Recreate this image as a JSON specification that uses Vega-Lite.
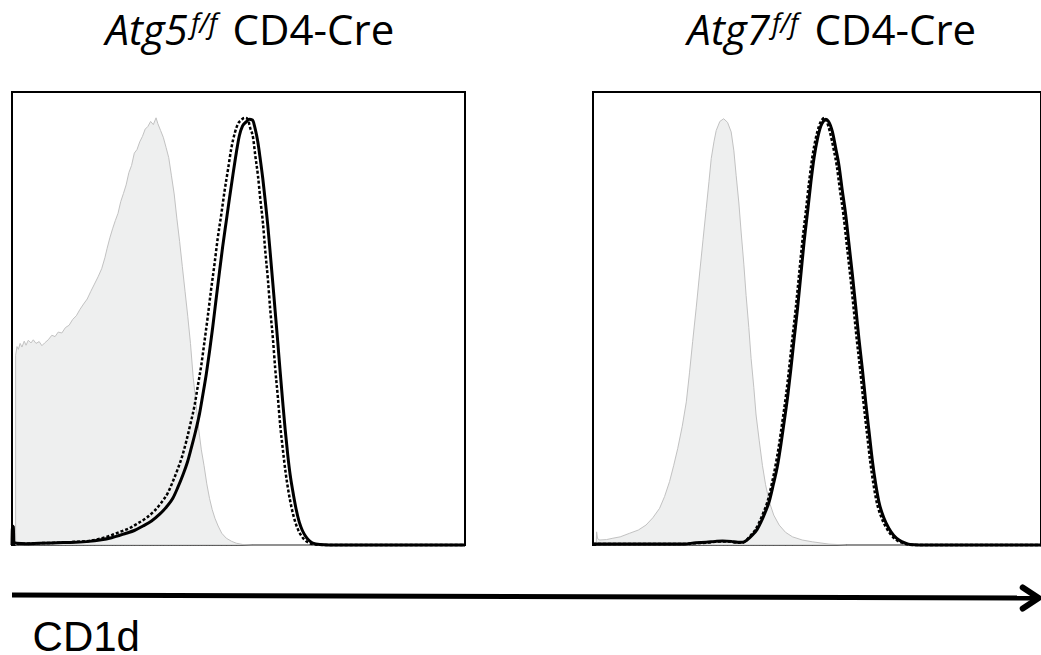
{
  "$schema": "https://vega.github.io/schema/vega-lite/v6.json",
  "background": "white",
  "padding": {"left": 9, "top": 10, "right": 0, "bottom": 0},
  "config": {"view": {"stroke": "black", "strokeWidth": 2}},
  "datasets": {
    "atg5": [
      {"sample":"isotype","cd1d":8,"events":41.9},{"sample":"isotype","cd1d":11,"events":43.8},{"sample":"isotype","cd1d":14,"events":43.2},{"sample":"isotype","cd1d":18,"events":44.5},{"sample":"isotype","cd1d":22,"events":43.7},{"sample":"isotype","cd1d":27,"events":45},{"sample":"isotype","cd1d":31,"events":44.1},{"sample":"isotype","cd1d":36,"events":45.2},{"sample":"isotype","cd1d":42,"events":44.6},{"sample":"isotype","cd1d":47,"events":45.3},{"sample":"isotype","cd1d":53,"events":44.5},{"sample":"isotype","cd1d":60,"events":44.9},{"sample":"isotype","cd1d":66,"events":44},{"sample":"isotype","cd1d":72,"events":44.6},{"sample":"isotype","cd1d":80,"events":45.3},{"sample":"isotype","cd1d":88,"events":46.3},{"sample":"isotype","cd1d":95,"events":46},{"sample":"isotype","cd1d":102,"events":47},{"sample":"isotype","cd1d":110,"events":46.8},{"sample":"isotype","cd1d":118,"events":48},{"sample":"isotype","cd1d":126,"events":48.5},{"sample":"isotype","cd1d":134,"events":49.8},{"sample":"isotype","cd1d":142,"events":50.6},{"sample":"isotype","cd1d":150,"events":52},{"sample":"isotype","cd1d":158,"events":53.2},{"sample":"isotype","cd1d":166,"events":54.3},{"sample":"isotype","cd1d":174,"events":56},{"sample":"isotype","cd1d":182,"events":57.6},{"sample":"isotype","cd1d":190,"events":59.2},{"sample":"isotype","cd1d":198,"events":61},{"sample":"isotype","cd1d":205,"events":63.4},{"sample":"isotype","cd1d":210,"events":65.5},{"sample":"isotype","cd1d":216,"events":67.8},{"sample":"isotype","cd1d":222,"events":69.8},{"sample":"isotype","cd1d":228,"events":71.6},{"sample":"isotype","cd1d":234,"events":73.2},{"sample":"isotype","cd1d":240,"events":75.8},{"sample":"isotype","cd1d":246,"events":77.6},{"sample":"isotype","cd1d":252,"events":79.5},{"sample":"isotype","cd1d":258,"events":82.2},{"sample":"isotype","cd1d":264,"events":83.8},{"sample":"isotype","cd1d":270,"events":86.5},{"sample":"isotype","cd1d":276,"events":87.3},{"sample":"isotype","cd1d":282,"events":89},{"sample":"isotype","cd1d":288,"events":90.2},{"sample":"isotype","cd1d":294,"events":91.8},{"sample":"isotype","cd1d":300,"events":92.4},{"sample":"isotype","cd1d":306,"events":93.5},{"sample":"isotype","cd1d":312,"events":92.8},{"sample":"isotype","cd1d":318,"events":94.3},{"sample":"isotype","cd1d":322,"events":93},{"sample":"isotype","cd1d":328,"events":91.5},{"sample":"isotype","cd1d":334,"events":90},{"sample":"isotype","cd1d":340,"events":87.8},{"sample":"isotype","cd1d":346,"events":85.5},{"sample":"isotype","cd1d":352,"events":81.5},{"sample":"isotype","cd1d":358,"events":77.5},{"sample":"isotype","cd1d":364,"events":72},{"sample":"isotype","cd1d":370,"events":67},{"sample":"isotype","cd1d":376,"events":61.5},{"sample":"isotype","cd1d":382,"events":56},{"sample":"isotype","cd1d":388,"events":50.5},{"sample":"isotype","cd1d":394,"events":44.5},{"sample":"isotype","cd1d":400,"events":37},{"sample":"isotype","cd1d":406,"events":31.5},{"sample":"isotype","cd1d":412,"events":25.7},{"sample":"isotype","cd1d":418,"events":21},{"sample":"isotype","cd1d":424,"events":17.5},{"sample":"isotype","cd1d":430,"events":13.5},{"sample":"isotype","cd1d":436,"events":10.3},{"sample":"isotype","cd1d":442,"events":7.8},{"sample":"isotype","cd1d":448,"events":5.9},{"sample":"isotype","cd1d":455,"events":4.2},{"sample":"isotype","cd1d":463,"events":2.6},{"sample":"isotype","cd1d":473,"events":1.5},{"sample":"isotype","cd1d":485,"events":0.8},{"sample":"isotype","cd1d":495,"events":0.4},{"sample":"isotype","cd1d":510,"events":0.1},{"sample":"isotype","cd1d":530,"events":0},{"sample":"isotype","cd1d":1000,"events":0},
      {"sample":"control","cd1d":0,"events":0},{"sample":"control","cd1d":1,"events":4.2},{"sample":"control","cd1d":3,"events":4},{"sample":"control","cd1d":4,"events":0.6},{"sample":"control","cd1d":10,"events":0.4},{"sample":"control","cd1d":30,"events":0.3},{"sample":"control","cd1d":60,"events":0.4},{"sample":"control","cd1d":100,"events":0.5},{"sample":"control","cd1d":140,"events":0.6},{"sample":"control","cd1d":170,"events":0.8},{"sample":"control","cd1d":194,"events":1.1},{"sample":"control","cd1d":220,"events":1.6},{"sample":"control","cd1d":252,"events":2.6},{"sample":"control","cd1d":270,"events":3.2},{"sample":"control","cd1d":289,"events":4.2},{"sample":"control","cd1d":308,"events":5.3},{"sample":"control","cd1d":326,"events":6.8},{"sample":"control","cd1d":341,"events":8.4},{"sample":"control","cd1d":355,"events":10.3},{"sample":"control","cd1d":366,"events":12.7},{"sample":"control","cd1d":377,"events":15.4},{"sample":"control","cd1d":387,"events":18.2},{"sample":"control","cd1d":396,"events":21.5},{"sample":"control","cd1d":405,"events":25},{"sample":"control","cd1d":414,"events":29},{"sample":"control","cd1d":421,"events":33},{"sample":"control","cd1d":429,"events":37.8},{"sample":"control","cd1d":436,"events":42.7},{"sample":"control","cd1d":443,"events":48},{"sample":"control","cd1d":450,"events":53.8},{"sample":"control","cd1d":458,"events":60.3},{"sample":"control","cd1d":465,"events":65.8},{"sample":"control","cd1d":473,"events":71.5},{"sample":"control","cd1d":480,"events":76.5},{"sample":"control","cd1d":487.5,"events":81.6},{"sample":"control","cd1d":495,"events":86.5},{"sample":"control","cd1d":502,"events":90.4},{"sample":"control","cd1d":509,"events":92.5},{"sample":"control","cd1d":517,"events":93.4},{"sample":"control","cd1d":524,"events":94},{"sample":"control","cd1d":531,"events":93.8},{"sample":"control","cd1d":537,"events":91.8},{"sample":"control","cd1d":542.6,"events":89},{"sample":"control","cd1d":548,"events":85.2},{"sample":"control","cd1d":553.6,"events":80.9},{"sample":"control","cd1d":559,"events":76},{"sample":"control","cd1d":564.6,"events":70.6},{"sample":"control","cd1d":570,"events":64.5},{"sample":"control","cd1d":575.6,"events":58},{"sample":"control","cd1d":581,"events":51.5},{"sample":"control","cd1d":586.6,"events":44.9},{"sample":"control","cd1d":592,"events":38.2},{"sample":"control","cd1d":597.6,"events":31.6},{"sample":"control","cd1d":603,"events":25.5},{"sample":"control","cd1d":608.7,"events":19.9},{"sample":"control","cd1d":614,"events":15.5},{"sample":"control","cd1d":620,"events":11.8},{"sample":"control","cd1d":627,"events":8},{"sample":"control","cd1d":634,"events":5.1},{"sample":"control","cd1d":641,"events":3.2},{"sample":"control","cd1d":649,"events":1.8},{"sample":"control","cd1d":656,"events":1},{"sample":"control","cd1d":664,"events":0.4},{"sample":"control","cd1d":680,"events":0.1},{"sample":"control","cd1d":700,"events":0},{"sample":"control","cd1d":1000,"events":0},
      {"sample":"knockout","cd1d":0,"events":0.3},{"sample":"knockout","cd1d":30,"events":0.3},{"sample":"knockout","cd1d":60,"events":0.4},{"sample":"knockout","cd1d":100,"events":0.5},{"sample":"knockout","cd1d":140,"events":0.7},{"sample":"knockout","cd1d":170,"events":0.9},{"sample":"knockout","cd1d":190,"events":1.3},{"sample":"knockout","cd1d":215,"events":2},{"sample":"knockout","cd1d":241,"events":3},{"sample":"knockout","cd1d":259,"events":3.7},{"sample":"knockout","cd1d":278,"events":4.8},{"sample":"knockout","cd1d":297,"events":6},{"sample":"knockout","cd1d":315,"events":7.6},{"sample":"knockout","cd1d":330,"events":9.4},{"sample":"knockout","cd1d":344,"events":11.5},{"sample":"knockout","cd1d":355,"events":14},{"sample":"knockout","cd1d":366,"events":16.8},{"sample":"knockout","cd1d":376,"events":19.7},{"sample":"knockout","cd1d":385,"events":23},{"sample":"knockout","cd1d":394,"events":26.8},{"sample":"knockout","cd1d":403,"events":30.8},{"sample":"knockout","cd1d":410,"events":35},{"sample":"knockout","cd1d":418,"events":39.8},{"sample":"knockout","cd1d":425,"events":45},{"sample":"knockout","cd1d":432,"events":50.3},{"sample":"knockout","cd1d":439,"events":56},{"sample":"knockout","cd1d":447,"events":62},{"sample":"knockout","cd1d":454,"events":67.6},{"sample":"knockout","cd1d":462,"events":73},{"sample":"knockout","cd1d":469,"events":78},{"sample":"knockout","cd1d":477,"events":83},{"sample":"knockout","cd1d":484,"events":87.5},{"sample":"knockout","cd1d":492,"events":91},{"sample":"knockout","cd1d":499,"events":93},{"sample":"knockout","cd1d":506,"events":93.8},{"sample":"knockout","cd1d":513,"events":94.3},{"sample":"knockout","cd1d":520,"events":94.1},{"sample":"knockout","cd1d":526,"events":92},{"sample":"knockout","cd1d":532,"events":90},{"sample":"knockout","cd1d":537,"events":86},{"sample":"knockout","cd1d":543,"events":81.5},{"sample":"knockout","cd1d":548,"events":76.5},{"sample":"knockout","cd1d":554,"events":71},{"sample":"knockout","cd1d":559,"events":65},{"sample":"knockout","cd1d":565,"events":58.5},{"sample":"knockout","cd1d":570,"events":52},{"sample":"knockout","cd1d":576,"events":45.5},{"sample":"knockout","cd1d":581,"events":39},{"sample":"knockout","cd1d":587,"events":32.5},{"sample":"knockout","cd1d":592,"events":26.5},{"sample":"knockout","cd1d":598,"events":21},{"sample":"knockout","cd1d":604,"events":16},{"sample":"knockout","cd1d":610,"events":12},{"sample":"knockout","cd1d":617,"events":8.3},{"sample":"knockout","cd1d":624,"events":5.5},{"sample":"knockout","cd1d":631,"events":3.5},{"sample":"knockout","cd1d":639,"events":2},{"sample":"knockout","cd1d":646,"events":1.1},{"sample":"knockout","cd1d":655,"events":0.5},{"sample":"knockout","cd1d":670,"events":0.1},{"sample":"knockout","cd1d":690,"events":0},{"sample":"knockout","cd1d":1000,"events":0}
    ],
    "atg7": [
      {"sample":"isotype","cd1d":7,"events":0},{"sample":"isotype","cd1d":8,"events":2.9},{"sample":"isotype","cd1d":10,"events":1.4},{"sample":"isotype","cd1d":15,"events":1.1},{"sample":"isotype","cd1d":30,"events":1.2},{"sample":"isotype","cd1d":44,"events":1.5},{"sample":"isotype","cd1d":60,"events":1.8},{"sample":"isotype","cd1d":81,"events":2.6},{"sample":"isotype","cd1d":100,"events":3.3},{"sample":"isotype","cd1d":117,"events":4.4},{"sample":"isotype","cd1d":132,"events":6},{"sample":"isotype","cd1d":147,"events":8.1},{"sample":"isotype","cd1d":158,"events":10.7},{"sample":"isotype","cd1d":169,"events":14},{"sample":"isotype","cd1d":178,"events":17.5},{"sample":"isotype","cd1d":187,"events":21.3},{"sample":"isotype","cd1d":197,"events":26.2},{"sample":"isotype","cd1d":206,"events":31.6},{"sample":"isotype","cd1d":213,"events":38},{"sample":"isotype","cd1d":220,"events":44.9},{"sample":"isotype","cd1d":228,"events":52.5},{"sample":"isotype","cd1d":235,"events":59.6},{"sample":"isotype","cd1d":243,"events":67.5},{"sample":"isotype","cd1d":250,"events":74.3},{"sample":"isotype","cd1d":256,"events":80.2},{"sample":"isotype","cd1d":261,"events":85.3},{"sample":"isotype","cd1d":267,"events":89},{"sample":"isotype","cd1d":272,"events":91.5},{"sample":"isotype","cd1d":280,"events":93.5},{"sample":"isotype","cd1d":288.5,"events":94.1},{"sample":"isotype","cd1d":297,"events":93.3},{"sample":"isotype","cd1d":305,"events":91.2},{"sample":"isotype","cd1d":311,"events":87},{"sample":"isotype","cd1d":316,"events":81.6},{"sample":"isotype","cd1d":322,"events":75.5},{"sample":"isotype","cd1d":327,"events":69.1},{"sample":"isotype","cd1d":333,"events":62},{"sample":"isotype","cd1d":338,"events":55.1},{"sample":"isotype","cd1d":344,"events":48},{"sample":"isotype","cd1d":349,"events":41.2},{"sample":"isotype","cd1d":355,"events":34.8},{"sample":"isotype","cd1d":360,"events":28.7},{"sample":"isotype","cd1d":367,"events":23},{"sample":"isotype","cd1d":374,"events":17.6},{"sample":"isotype","cd1d":381,"events":13.3},{"sample":"isotype","cd1d":389,"events":9.6},{"sample":"isotype","cd1d":399,"events":6.6},{"sample":"isotype","cd1d":411,"events":4.4},{"sample":"isotype","cd1d":425,"events":2.8},{"sample":"isotype","cd1d":440.5,"events":1.8},{"sample":"isotype","cd1d":462,"events":1.1},{"sample":"isotype","cd1d":484.6,"events":0.7},{"sample":"isotype","cd1d":521,"events":0.2},{"sample":"isotype","cd1d":560,"events":0},{"sample":"isotype","cd1d":989,"events":0},
      {"sample":"control","cd1d":0,"events":0.2},{"sample":"control","cd1d":100,"events":0.2},{"sample":"control","cd1d":200,"events":0.2},{"sample":"control","cd1d":227,"events":0.5},{"sample":"control","cd1d":250,"events":0.6},{"sample":"control","cd1d":270,"events":0.8},{"sample":"control","cd1d":286,"events":0.9},{"sample":"control","cd1d":305,"events":0.8},{"sample":"control","cd1d":320,"events":0.6},{"sample":"control","cd1d":330,"events":0.6},{"sample":"control","cd1d":340,"events":1.1},{"sample":"control","cd1d":352,"events":2.2},{"sample":"control","cd1d":362,"events":3.4},{"sample":"control","cd1d":371,"events":5.1},{"sample":"control","cd1d":380,"events":7.2},{"sample":"control","cd1d":389,"events":9.6},{"sample":"control","cd1d":398,"events":13.3},{"sample":"control","cd1d":407.5,"events":17.6},{"sample":"control","cd1d":415,"events":22.3},{"sample":"control","cd1d":422,"events":27.2},{"sample":"control","cd1d":430,"events":33},{"sample":"control","cd1d":437,"events":39},{"sample":"control","cd1d":444,"events":45.5},{"sample":"control","cd1d":451.5,"events":52.2},{"sample":"control","cd1d":459,"events":59.8},{"sample":"control","cd1d":466,"events":66.9},{"sample":"control","cd1d":474,"events":73.8},{"sample":"control","cd1d":481,"events":80.1},{"sample":"control","cd1d":488,"events":85.5},{"sample":"control","cd1d":495.6,"events":89.7},{"sample":"control","cd1d":503,"events":92.5},{"sample":"control","cd1d":509,"events":93.6},{"sample":"control","cd1d":514,"events":94},{"sample":"control","cd1d":520,"events":93.5},{"sample":"control","cd1d":528.6,"events":91.2},{"sample":"control","cd1d":536,"events":87.5},{"sample":"control","cd1d":543,"events":83.8},{"sample":"control","cd1d":550,"events":78.5},{"sample":"control","cd1d":558,"events":72.8},{"sample":"control","cd1d":565,"events":66.5},{"sample":"control","cd1d":572.7,"events":59.6},{"sample":"control","cd1d":580,"events":52.6},{"sample":"control","cd1d":587,"events":45.6},{"sample":"control","cd1d":595,"events":38.5},{"sample":"control","cd1d":602,"events":31.6},{"sample":"control","cd1d":610,"events":24.5},{"sample":"control","cd1d":617,"events":18.4},{"sample":"control","cd1d":624,"events":13.5},{"sample":"control","cd1d":631,"events":9.6},{"sample":"control","cd1d":642,"events":6},{"sample":"control","cd1d":653,"events":3.7},{"sample":"control","cd1d":664,"events":2.1},{"sample":"control","cd1d":675.5,"events":1.1},{"sample":"control","cd1d":690,"events":0.4},{"sample":"control","cd1d":700,"events":0.1},{"sample":"control","cd1d":720,"events":0},{"sample":"control","cd1d":989,"events":0},
      {"sample":"knockout","cd1d":0,"events":0.2},{"sample":"knockout","cd1d":100,"events":0.2},{"sample":"knockout","cd1d":200,"events":0.2},{"sample":"knockout","cd1d":225,"events":0.4},{"sample":"knockout","cd1d":250,"events":0.5},{"sample":"knockout","cd1d":270,"events":0.7},{"sample":"knockout","cd1d":286,"events":0.8},{"sample":"knockout","cd1d":305,"events":0.7},{"sample":"knockout","cd1d":320,"events":0.5},{"sample":"knockout","cd1d":330,"events":0.5},{"sample":"knockout","cd1d":338,"events":1},{"sample":"knockout","cd1d":348,"events":2.1},{"sample":"knockout","cd1d":358,"events":3.3},{"sample":"knockout","cd1d":367,"events":5},{"sample":"knockout","cd1d":376,"events":7.1},{"sample":"knockout","cd1d":385,"events":9.5},{"sample":"knockout","cd1d":394,"events":13.2},{"sample":"knockout","cd1d":403,"events":17.6},{"sample":"knockout","cd1d":411,"events":22.3},{"sample":"knockout","cd1d":418,"events":27.2},{"sample":"knockout","cd1d":426,"events":33},{"sample":"knockout","cd1d":433,"events":39},{"sample":"knockout","cd1d":440,"events":45.5},{"sample":"knockout","cd1d":447.5,"events":52.2},{"sample":"knockout","cd1d":455,"events":59.8},{"sample":"knockout","cd1d":462,"events":66.9},{"sample":"knockout","cd1d":470,"events":73.8},{"sample":"knockout","cd1d":477,"events":80.1},{"sample":"knockout","cd1d":484,"events":85.5},{"sample":"knockout","cd1d":491.6,"events":89.7},{"sample":"knockout","cd1d":499,"events":92.5},{"sample":"knockout","cd1d":505,"events":93.8},{"sample":"knockout","cd1d":511,"events":94.3},{"sample":"knockout","cd1d":516,"events":93.5},{"sample":"knockout","cd1d":523,"events":91.2},{"sample":"knockout","cd1d":531,"events":87.5},{"sample":"knockout","cd1d":538,"events":83.8},{"sample":"knockout","cd1d":545,"events":78.5},{"sample":"knockout","cd1d":553,"events":72.8},{"sample":"knockout","cd1d":560,"events":66.5},{"sample":"knockout","cd1d":567.7,"events":59.6},{"sample":"knockout","cd1d":575,"events":52.6},{"sample":"knockout","cd1d":582,"events":45.6},{"sample":"knockout","cd1d":590,"events":38.5},{"sample":"knockout","cd1d":597,"events":31.6},{"sample":"knockout","cd1d":605,"events":24.5},{"sample":"knockout","cd1d":612,"events":18.4},{"sample":"knockout","cd1d":619,"events":13.5},{"sample":"knockout","cd1d":626,"events":9.6},{"sample":"knockout","cd1d":637,"events":6},{"sample":"knockout","cd1d":648,"events":3.7},{"sample":"knockout","cd1d":659,"events":2.1},{"sample":"knockout","cd1d":670,"events":1.1},{"sample":"knockout","cd1d":685,"events":0.4},{"sample":"knockout","cd1d":695,"events":0.1},{"sample":"knockout","cd1d":715,"events":0},{"sample":"knockout","cd1d":989,"events":0}
    ]
  },
  "spacing": 7,
  "vconcat": [
    {
      "bounds": "flush",
      "spacing": 128,
      "hconcat": [
        {
          "width": 453, "height": 453,
          "data": {"name": "atg5"},
          "layer": [
            {"transform": [{"filter": "datum.sample === 'isotype'"}], "mark": {"type": "area", "fill": "#eeefef", "stroke": "#c2c2c2", "strokeWidth": 1, "strokeJoin": "round", "fillOpacity": 1},
             "encoding": {
               "x": {"field": "cd1d", "type": "quantitative", "scale": {"domain": [0, 1000], "nice": false, "zero": false}, "axis": null},
               "y": {"field": "events", "type": "quantitative", "scale": {"domain": [0, 100], "nice": false}, "axis": null}}},
            {"transform": [{"filter": "datum.sample === 'control'"}], "mark": {"type": "line", "color": "black", "strokeWidth": 3, "strokeJoin": "round", "interpolate": "monotone"},
             "encoding": {"x": {"field": "cd1d", "type": "quantitative"}, "y": {"field": "events", "type": "quantitative"}}},
            {"transform": [{"filter": "datum.sample === 'knockout'"}], "mark": {"type": "line", "color": "black", "strokeWidth": 2.5, "strokeJoin": "round", "strokeDash": [3, 2], "interpolate": "monotone"},
             "encoding": {"x": {"field": "cd1d", "type": "quantitative"}, "y": {"field": "events", "type": "quantitative"}}},
            {"data": {"values": [{"label": "Atg5"}]}, "mark": {"type": "text", "font": "Open Sans", "fontStyle": "italic", "fontSize": 42, "align": "right", "baseline": "alphabetic", "color": "black"},
             "encoding": {"text": {"field": "label", "type": "nominal"}, "x": {"datum": 388, "type": "quantitative"}, "y": {"datum": 110.3, "type": "quantitative"}}},
            {"data": {"values": [{"label": "f/f"}]}, "mark": {"type": "text", "font": "Open Sans", "fontStyle": "italic", "fontSize": 27, "align": "left", "baseline": "alphabetic", "color": "black"},
             "encoding": {"text": {"field": "label", "type": "nominal"}, "x": {"datum": 395, "type": "quantitative"}, "y": {"datum": 113, "type": "quantitative"}}},
            {"data": {"values": [{"label": "CD4-Cre"}]}, "mark": {"type": "text", "font": "Open Sans", "fontSize": 42, "align": "left", "baseline": "alphabetic", "color": "black"},
             "encoding": {"text": {"field": "label", "type": "nominal"}, "x": {"datum": 487, "type": "quantitative"}, "y": {"datum": 110.3, "type": "quantitative"}}}
          ]
        },
        {
          "width": 448, "height": 453,
          "data": {"name": "atg7"},
          "layer": [
            {"transform": [{"filter": "datum.sample === 'isotype'"}], "mark": {"type": "area", "fill": "#eeefef", "stroke": "#c2c2c2", "strokeWidth": 1, "strokeJoin": "round", "fillOpacity": 1},
             "encoding": {
               "x": {"field": "cd1d", "type": "quantitative", "scale": {"domain": [0, 989], "nice": false, "zero": false}, "axis": null},
               "y": {"field": "events", "type": "quantitative", "scale": {"domain": [0, 100], "nice": false}, "axis": null}}},
            {"transform": [{"filter": "datum.sample === 'control'"}], "mark": {"type": "line", "color": "black", "strokeWidth": 3, "strokeJoin": "round", "interpolate": "monotone"},
             "encoding": {"x": {"field": "cd1d", "type": "quantitative"}, "y": {"field": "events", "type": "quantitative"}}},
            {"transform": [{"filter": "datum.sample === 'knockout'"}], "mark": {"type": "line", "color": "black", "strokeWidth": 2.5, "strokeJoin": "round", "strokeDash": [3, 2], "interpolate": "monotone"},
             "encoding": {"x": {"field": "cd1d", "type": "quantitative"}, "y": {"field": "events", "type": "quantitative"}}},
            {"data": {"values": [{"label": "Atg7"}]}, "mark": {"type": "text", "font": "Open Sans", "fontStyle": "italic", "fontSize": 42, "align": "right", "baseline": "alphabetic", "color": "black"},
             "encoding": {"text": {"field": "label", "type": "nominal"}, "x": {"datum": 390, "type": "quantitative"}, "y": {"datum": 110.3, "type": "quantitative"}}},
            {"data": {"values": [{"label": "f/f"}]}, "mark": {"type": "text", "font": "Open Sans", "fontStyle": "italic", "fontSize": 27, "align": "left", "baseline": "alphabetic", "color": "black"},
             "encoding": {"text": {"field": "label", "type": "nominal"}, "x": {"datum": 395, "type": "quantitative"}, "y": {"datum": 113, "type": "quantitative"}}},
            {"data": {"values": [{"label": "CD4-Cre"}]}, "mark": {"type": "text", "font": "Open Sans", "fontSize": 42, "align": "left", "baseline": "alphabetic", "color": "black"},
             "encoding": {"text": {"field": "label", "type": "nominal"}, "x": {"datum": 489, "type": "quantitative"}, "y": {"datum": 110.3, "type": "quantitative"}}}
          ]
        }
      ]
    },
    {
      "width": 1029, "height": 100,
      "view": {"stroke": null},
      "layer": [
        {"data": {"values": [{}]}, "mark": {"type": "rule", "color": "black", "strokeWidth": 5},
         "encoding": {
           "x": {"datum": 0, "type": "quantitative", "scale": {"domain": [0, 1000], "nice": false}, "axis": null},
           "x2": {"datum": 996},
           "y": {"datum": 60, "type": "quantitative", "scale": {"domain": [0, 100], "nice": false}, "axis": null},
           "y2": {"datum": 57}
         }},
        {"data": {"values": [{}]}, "mark": {"type": "point", "shape": "M-0.76,-1L0.76,0L-0.76,1", "filled": false, "stroke": "black", "strokeWidth": 6, "strokeCap": "round", "strokeJoin": "round", "size": 441, "opacity": 1},
         "encoding": {"x": {"datum": 990, "type": "quantitative"}, "y": {"datum": 57, "type": "quantitative"}}},
        {"data": {"values": [{"label": "CD1d"}]}, "mark": {"type": "text", "font": "Liberation Sans", "fontSize": 42, "align": "left", "baseline": "alphabetic", "color": "black"},
         "encoding": {"text": {"field": "label", "type": "nominal"}, "x": {"datum": 20, "type": "quantitative"}, "y": {"datum": 4, "type": "quantitative"}}}
      ]
    }
  ]
}
